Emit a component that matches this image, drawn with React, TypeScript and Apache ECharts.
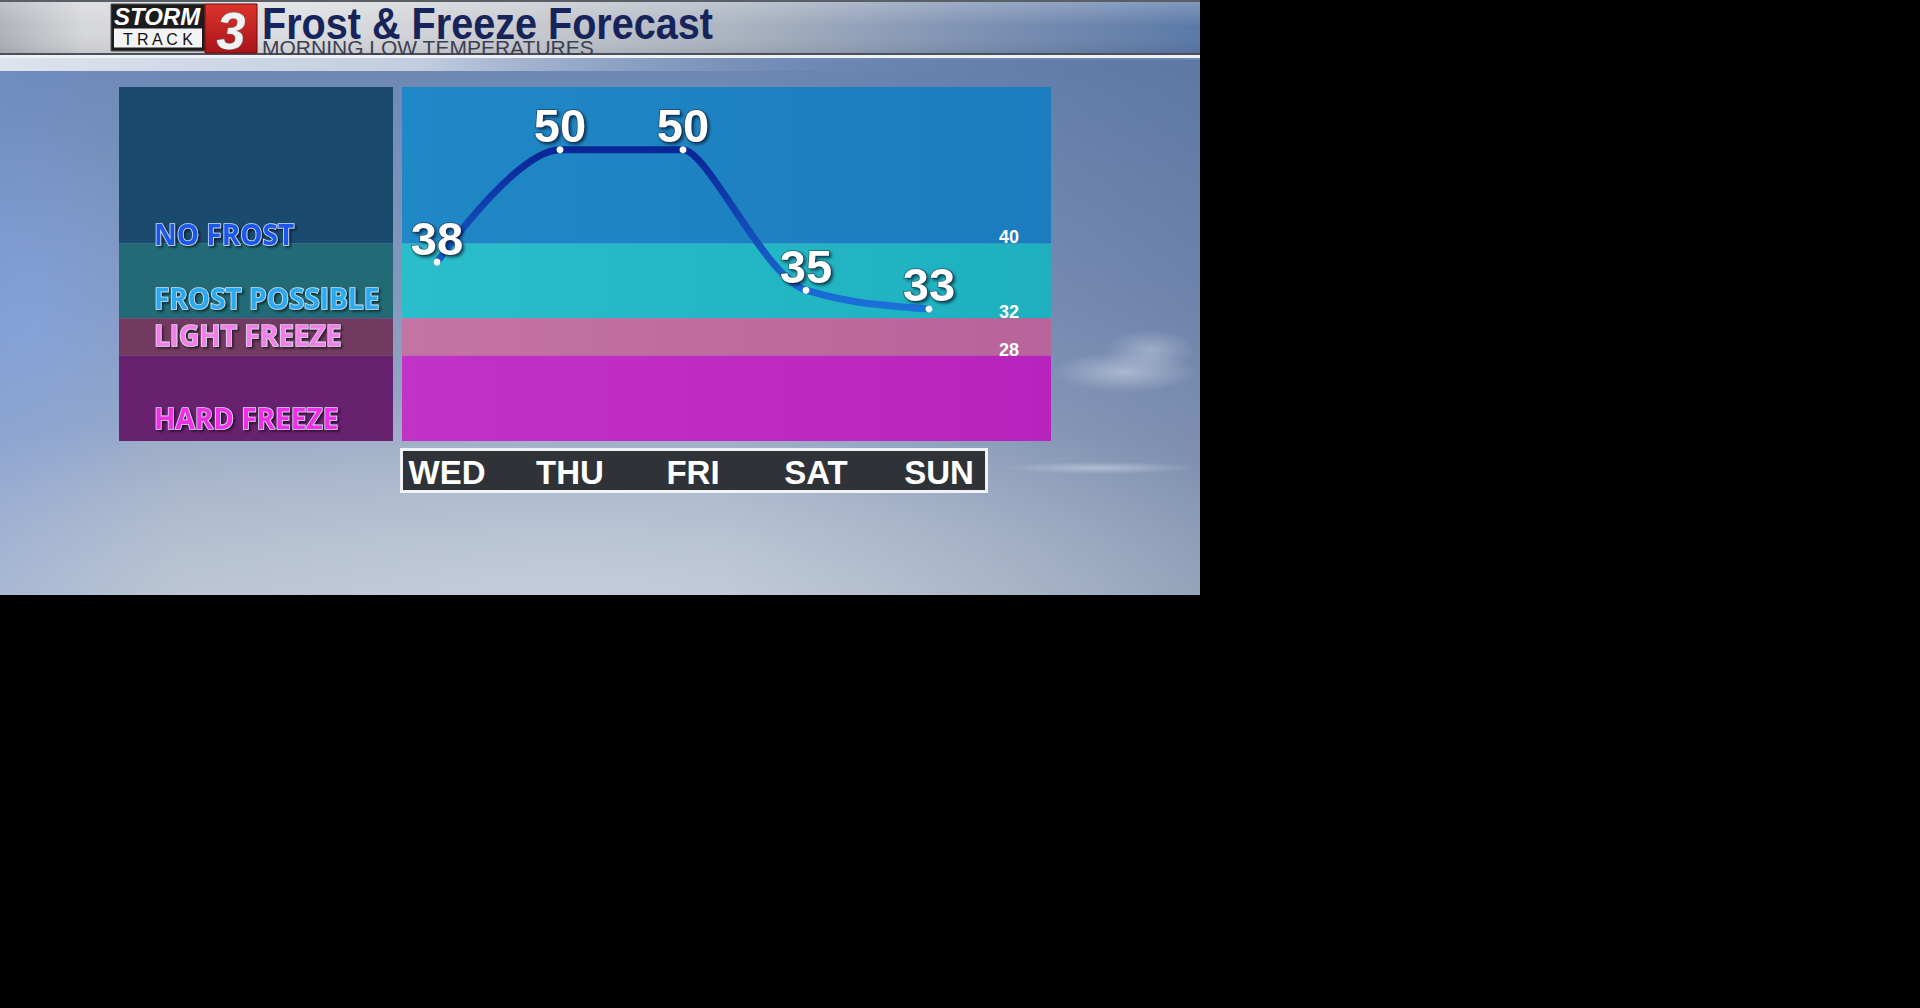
import React, { useEffect, useRef } from 'react';
import * as echarts from 'echarts';

// ---------- data ----------
const DAYS = ['WED', 'THU', 'FRI', 'SAT', 'SUN'];
const TEMPS = [38, 50, 50, 35, 33];
const THRESHOLDS = [40, 32, 28];
const Y_MIN = 18.9;
const Y_MAX = 56.7;
const BAND_NAMES = ['NO FROST', 'FROST POSSIBLE', 'LIGHT FREEZE', 'HARD FREEZE'];
const BAND_HIGH = [Y_MAX, 40, 32, 28];
const BAND_LOW = [40, 32, 28, Y_MIN];
const TITLE = 'Frost & Freeze Forecast';
const SUBTITLE = 'MORNING LOW TEMPERATURES';

// ---------- styles ----------
const X_MIN = -0.2846;
const X_MAX = 4.992;
const CHART_BAND_COLORS = [
  ['#2088c6', '#1b7cbe'],
  ['#2abdcc', '#1eb0bf'],
  ['#c474a4', '#b8639a'],
  ['#c232c6', '#b923bd'],
];
const LEGEND_BAND_COLORS = ['#1a4a6d', '#216a76', '#733a61', '#67216f'];
const LEGEND_TEXT_COLORS = ['#1f57ea', '#2aa9f0', '#f27ee6', '#f02fe6'];
const LEGEND_LABEL_DY = [5, -6, -7, -9.5];

const hgrad = (stops: [number, string][]) =>
  new echarts.graphic.LinearGradient(0, 0, 1, 0, stops.map(([offset, color]) => ({ offset, color })));
const vgrad = (stops: [number, string][]) =>
  new echarts.graphic.LinearGradient(0, 0, 0, 1, stops.map(([offset, color]) => ({ offset, color })));
const rgrad = (cx: number, cy: number, r: number, stops: [number, string][]) =>
  new echarts.graphic.RadialGradient(cx, cy, r, stops.map(([offset, color]) => ({ offset, color })));

// monotone cubic through pixel points (Fritsch–Carlson tangents)
function monotonePath(p: number[][]): string {
  const n = p.length;
  const sgn = (v: number) => (v === 0 ? 0 : v < 0 ? -1 : 1);
  const t: number[] = new Array(n).fill(0);
  for (let i = 1; i < n - 1; i++) {
    const h0 = p[i][0] - p[i - 1][0];
    const h1 = p[i + 1][0] - p[i][0];
    const s0 = (p[i][1] - p[i - 1][1]) / h0;
    const s1 = (p[i + 1][1] - p[i][1]) / h1;
    const q = (s0 * h1 + s1 * h0) / (h0 + h1);
    t[i] = (sgn(s0) + sgn(s1)) * Math.min(Math.abs(s0), Math.abs(s1), 0.5 * Math.abs(q)) || 0;
  }
  t[0] = (3 * (p[1][1] - p[0][1]) / (p[1][0] - p[0][0]) - t[1]) / 2;
  t[n - 1] = (3 * (p[n - 1][1] - p[n - 2][1]) / (p[n - 1][0] - p[n - 2][0]) - t[n - 2]) / 2;
  const fr = (i: number) => (i === 0 || i === n - 1 ? 0.45 : t[i] === 0 ? 0.2 : 1 / 3);
  let d = `M${p[0][0]},${p[0][1]}`;
  for (let i = 0; i < n - 1; i++) {
    const h = p[i + 1][0] - p[i][0];
    const a = fr(i) * h;
    const b = fr(i + 1) * h;
    d += ` C${p[i][0] + a},${p[i][1] + t[i] * a} ${p[i + 1][0] - b},${p[i + 1][1] - t[i + 1] * b} ${p[i + 1][0]},${p[i + 1][1]}`;
  }
  return d;
}

function buildOption() {
  const pts = TEMPS.map((v, i) => [i, v]);

  const textEl = (o: any) => ({
    type: 'text',
    ...o,
    style: {
      ...o.style,
      textAlign: o.style.align,
      textVerticalAlign: o.style.verticalAlign,
    },
  });

  const graphics: any[] = [
    // sky background
    { type: 'rect', shape: { x: 0, y: 0, width: 1200, height: 595 }, style: { fill: vgrad([[0, '#6783b2'], [0.5, '#8599be'], [1, '#b1bccb']]) } },
    { type: 'rect', shape: { x: 0, y: 60, width: 1200, height: 535 }, style: { fill: hgrad([[0, 'rgba(115,150,220,0.3)'], [0.15, 'rgba(115,150,220,0)'], [0.6, 'rgba(60,85,130,0)'], [1, 'rgba(60,85,130,0.32)']]) } },
    { type: 'rect', shape: { x: 0, y: 120, width: 320, height: 400 }, style: { fill: rgrad(0.1, 0.5, 0.5, [[0, 'rgba(135,170,240,0.4)'], [1, 'rgba(135,170,240,0)']]) } },
    { type: 'rect', shape: { x: 0, y: 300, width: 1200, height: 295 }, style: { fill: rgrad(0.47, 1, 0.7, [[0, 'rgba(210,218,230,0.55)'], [1, 'rgba(210,218,230,0)']]) } },
    { type: 'ellipse', shape: { cx: 1125, cy: 372, rx: 72, ry: 20 }, style: { fill: rgrad(0.5, 0.5, 0.5, [[0, 'rgba(220,228,240,0.5)'], [1, 'rgba(220,228,240,0)']]) } },
    { type: 'ellipse', shape: { cx: 1150, cy: 350, rx: 45, ry: 20 }, style: { fill: rgrad(0.5, 0.5, 0.5, [[0, 'rgba(220,228,240,0.4)'], [1, 'rgba(220,228,240,0)']]) } },
    { type: 'ellipse', shape: { cx: 1100, cy: 468, rx: 98, ry: 6 }, style: { fill: rgrad(0.5, 0.5, 0.5, [[0, 'rgba(225,232,242,0.45)'], [1, 'rgba(225,232,242,0)']]) } },
    // keep the outside black
    { type: 'rect', shape: { x: 1200, y: 0, width: 720, height: 1008 }, style: { fill: '#000000' } },
    { type: 'rect', shape: { x: 0, y: 595, width: 1200, height: 413 }, style: { fill: '#000000' } },

    // banner
    { type: 'rect', shape: { x: 0, y: 0, width: 1200, height: 54 }, style: { fill: hgrad([[0, '#aeb2ba'], [0.07, '#d6d7da'], [0.25, '#dcdde0'], [0.45, '#c5c8ce'], [0.62, '#a9b2c0'], [0.8, '#7f93b3'], [1, '#5a78a8']]) } },
    { type: 'rect', shape: { x: 0, y: 0, width: 1200, height: 54 }, style: { fill: vgrad([[0, 'rgba(255,255,255,0.25)'], [0.5, 'rgba(255,255,255,0)'], [1, 'rgba(0,0,0,0.08)']]) } },
    { type: 'rect', shape: { x: 0, y: 0, width: 1200, height: 2 }, style: { fill: '#5a5e66' } },
    { type: 'rect', shape: { x: 0, y: 53, width: 1200, height: 2 }, style: { fill: '#4c505a' } },
    { type: 'rect', shape: { x: 0, y: 55, width: 1200, height: 3 }, style: { fill: '#eef2f7' } },
    { type: 'rect', shape: { x: 0, y: 58, width: 1200, height: 13 }, style: { fill: hgrad([[0, 'rgba(228,232,240,0.95)'], [0.35, 'rgba(215,222,233,0.8)'], [0.7, 'rgba(120,145,185,0.2)'], [1, 'rgba(90,120,170,0)']]) } },

    // logo boxes
    { type: 'rect', shape: { x: 111, y: 4, width: 94, height: 47 }, style: { fill: '#1c1c1c', stroke: '#555555', lineWidth: 1 } },
    { type: 'rect', shape: { x: 114, y: 28.5, width: 88, height: 19 }, style: { fill: '#f4f4f4' } },
    { type: 'rect', shape: { x: 205, y: 4, width: 52, height: 49 }, style: { fill: vgrad([[0, '#dc342c'], [1, '#a8141a']]), stroke: '#6a0a0a', lineWidth: 1 } },
    // logo texts
    textEl({ x: 157, y: 16.5, style: { text: 'STORM', font: 'italic bold 24px "Liberation Sans", Arial, sans-serif', fill: '#ffffff', align: 'center', verticalAlign: 'middle', lineHeight: 22 } }),
    textEl({ x: 158, y: 39, style: { text: 'T R A C K', font: '16px "Liberation Sans", Arial, sans-serif', fill: '#111111', align: 'center', verticalAlign: 'middle', lineHeight: 17 } }),
    textEl({ x: 231, y: 31, style: { text: '3', font: 'italic bold 52px "Liberation Sans", Arial, sans-serif', fill: '#f2f2f2', stroke: '#777777', lineWidth: 1, align: 'center', verticalAlign: 'middle', lineHeight: 44, shadowColor: 'rgba(0,0,0,0.5)', shadowBlur: 3, shadowOffsetX: 2, shadowOffsetY: 2 } }),

    // titles
    textEl({ x: 262, y: 24, scaleX: 0.9, style: { text: TITLE, font: 'bold 44px "Liberation Sans", Arial, sans-serif', fill: '#17245a', align: 'left', verticalAlign: 'middle', lineHeight: 40 } }),
    textEl({ x: 262, y: 47.5, style: { text: SUBTITLE, font: '21px "Liberation Sans", Arial, sans-serif', fill: '#3a4052', align: 'left', verticalAlign: 'middle', lineHeight: 16 } }),

    // day label box
    { type: 'rect', shape: { x: 401.5, y: 449.5, width: 585, height: 42 }, style: { fill: '#2f3338', stroke: '#f0f2f5', lineWidth: 3 } },
  ];

  const curveGradient = vgrad([[0, '#0a2596'], [1, '#1b72da']]);

  return {
    animation: false,
    backgroundColor: '#000000',
    graphic: { elements: graphics },
    grid: [
      { left: 402, top: 87, width: 649, height: 354, outerBoundsMode: 'none' },
      { left: 119, top: 87, width: 274, height: 354, outerBoundsMode: 'none' },
    ],
    xAxis: [
      {
        gridIndex: 0,
        type: 'value',
        min: X_MIN,
        max: X_MAX,
        z: 10,
        axisLine: { show: false },
        axisTick: { show: false },
        splitLine: { show: false },
        axisLabel: {
          customValues: DAYS.map((_, i) => i),
          formatter: (v: number) => DAYS[Math.round(v)],
          margin: 15,
          color: '#ffffff',
          fontSize: 33,
          lineHeight: 32,
          fontWeight: 'bold',
          fontFamily: '"Liberation Sans", Arial, sans-serif',
          padding: [0, 0, 0, 20],
        },
      },
      { gridIndex: 1, type: 'value', min: 0, max: 1, show: false },
    ],
    yAxis: [
      {
        gridIndex: 0,
        type: 'value',
        min: Y_MIN,
        max: Y_MAX,
        position: 'right',
        z: 10,
        axisLine: { show: false },
        axisTick: { show: false },
        splitLine: { show: false },
        axisLabel: {
          inside: true,
          margin: 32,
          customValues: THRESHOLDS,
          formatter: (v: number) => String(v),
          color: '#ffffff',
          fontWeight: 'bold',
          fontSize: 18,
          lineHeight: 12,
          verticalAlign: 'bottom',
          fontFamily: '"Liberation Sans", Arial, sans-serif',
        },
      },
      { gridIndex: 1, type: 'value', min: Y_MIN, max: Y_MAX, show: false },
    ],
    series: [
      {
        type: 'line',
        xAxisIndex: 0,
        yAxisIndex: 0,
        z: 1,
        silent: true,
        data: pts,
        symbol: 'none',
        lineStyle: { width: 0, opacity: 0 },
        markArea: {
          silent: true,
          label: { show: false },
          data: BAND_NAMES.map((name, i) => [
            { name, yAxis: BAND_HIGH[i], itemStyle: { color: hgrad([[0, CHART_BAND_COLORS[i][0]], [1, CHART_BAND_COLORS[i][1]]]) } },
            { yAxis: BAND_LOW[i] },
          ]),
        },
      },
      {
        type: 'line',
        xAxisIndex: 1,
        yAxisIndex: 1,
        z: 1,
        silent: true,
        data: [[0.5, 40]],
        symbol: 'none',
        lineStyle: { width: 0, opacity: 0 },
        markArea: {
          silent: true,
          data: BAND_NAMES.map((name, i) => [
            {
              name,
              yAxis: BAND_HIGH[i],
              itemStyle: { color: LEGEND_BAND_COLORS[i] },
              label: {
                show: true,
                position: 'insideBottomLeft',
                distance: 0,
                offset: [35, LEGEND_LABEL_DY[i]],
                formatter: '{b}',
                color: LEGEND_TEXT_COLORS[i],
                fontFamily: '"Open Sans", "Noto Sans", sans-serif',
                fontWeight: 'bold',
                fontSize: 28,
                lineHeight: 28,
                textBorderColor: 'rgba(225,238,255,0.9)',
                textBorderWidth: 1.6,
                textShadowColor: 'rgba(0,0,0,0.55)',
                textShadowBlur: 2,
                textShadowOffsetX: 2,
                textShadowOffsetY: 2,
              },
            },
            { yAxis: BAND_LOW[i] },
          ]),
        },
      },
      {
        type: 'custom',
        xAxisIndex: 0,
        yAxisIndex: 0,
        z: 3,
        silent: true,
        data: pts,
        renderItem: (params: any, api: any) => {
          if (params.dataIndex !== 0) return null;
          const p = TEMPS.map((v, i) => api.coord([i, v]));
          return {
            type: 'path',
            shape: { pathData: monotonePath(p) },
            style: { fill: 'none', stroke: curveGradient, lineWidth: 7, lineCap: 'round', lineJoin: 'round' },
          };
        },
      },
      {
        type: 'line',
        xAxisIndex: 0,
        yAxisIndex: 0,
        z: 4,
        silent: true,
        data: pts,
        symbol: 'circle',
        symbolSize: 7,
        itemStyle: { color: '#ffffff' },
        lineStyle: { width: 0, opacity: 0 },
        label: {
          show: true,
          position: 'top',
          distance: -3,
          formatter: (p: any) => String(p.value[1]),
          color: '#ffffff',
          fontFamily: '"Liberation Sans", Arial, sans-serif',
          fontWeight: 'bold',
          fontSize: 47,
          lineHeight: 47,
          textBorderColor: 'rgba(20,30,55,0.55)',
          textBorderWidth: 1.5,
          textShadowColor: 'rgba(0,0,25,0.6)',
          textShadowBlur: 3,
          textShadowOffsetX: 2,
          textShadowOffsetY: 2,
        },
      },
    ],
  };
}

export default function App() {
  const ref = useRef<HTMLDivElement>(null);
  useEffect(() => {
    document.body.style.margin = '0';
    document.body.style.background = '#000';
    const chart = echarts.init(ref.current as HTMLDivElement, null, { renderer: 'svg' });
    chart.setOption(buildOption() as any);
    return () => chart.dispose();
  }, []);
  return (
    <div
      ref={ref}
      style={{ position: 'absolute', left: 0, top: 0, width: 1920, height: 1008, background: '#000' }}
    />
  );
}
